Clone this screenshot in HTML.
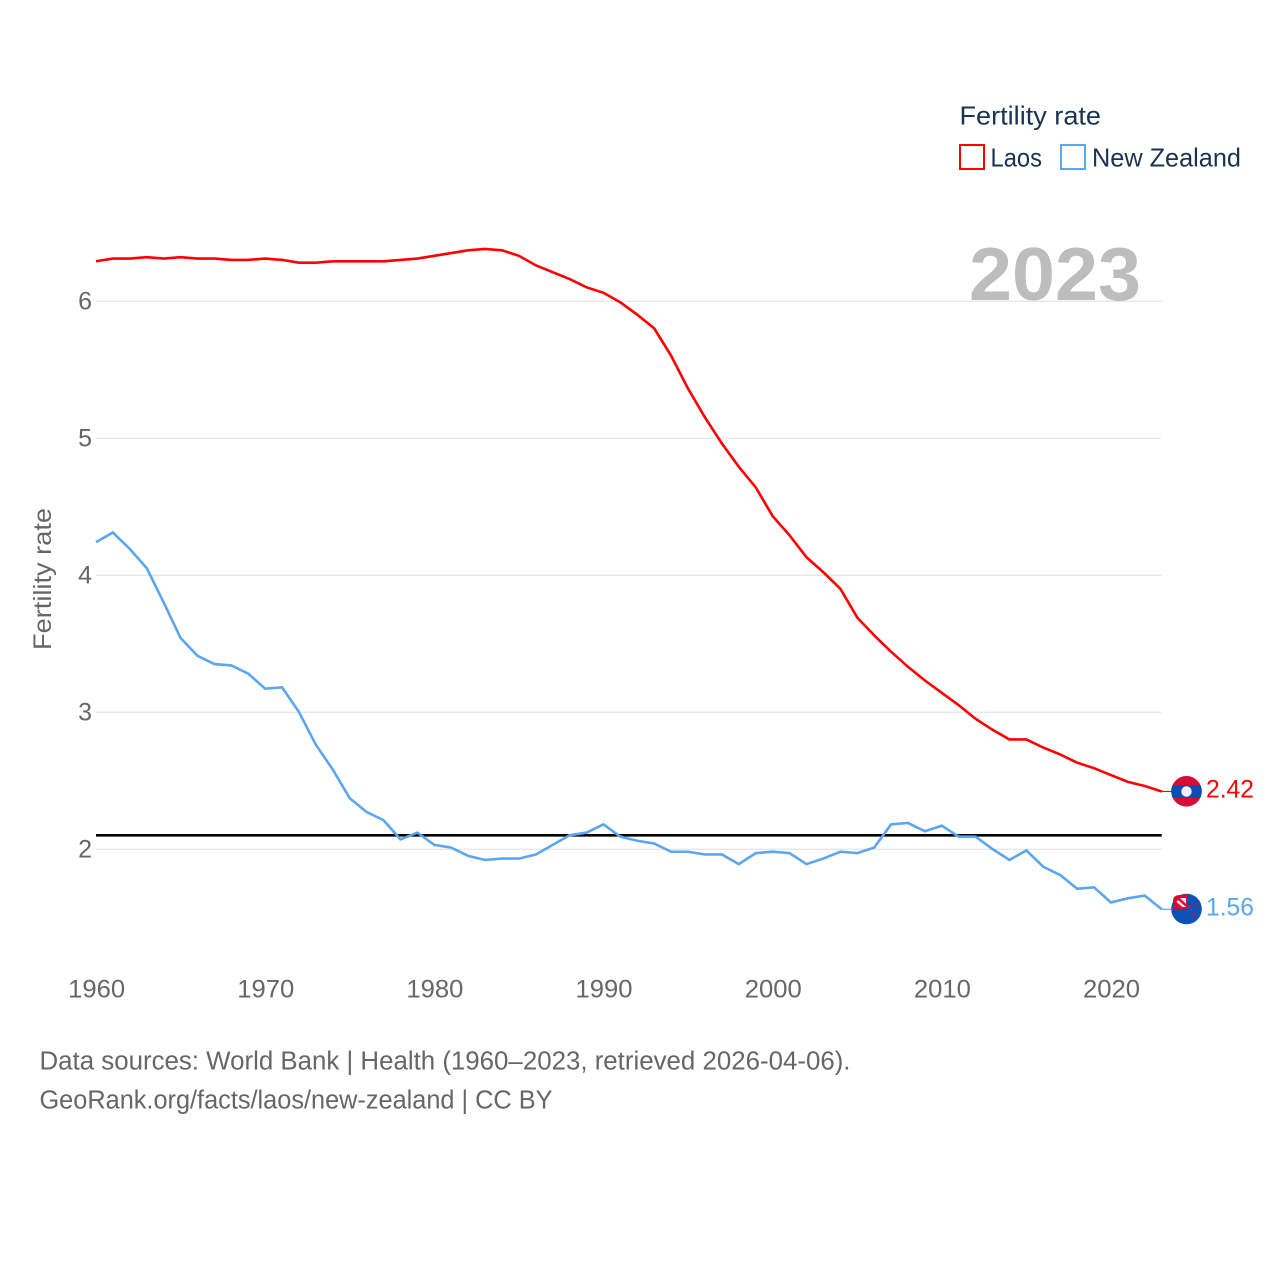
<!DOCTYPE html>
<html>
<head>
<meta charset="utf-8">
<title>Fertility rate: Laos and New Zealand</title>
<style>
html,body{margin:0;padding:0;background:#fff;}
svg{display:block;}
text{font-family:"Liberation Sans",sans-serif;}
.tick{font-size:25px;fill:#666;}
.src{font-size:25.5px;fill:#666;}
.leg{font-size:26px;fill:#1a3350;}
</style>
</head>
<body>
<svg id="chart" width="1280" height="1280" viewBox="0 0 1280 1280" xmlns="http://www.w3.org/2000/svg">
  <defs>
    <clipPath id="clip-la"><circle cx="1186.500" cy="791.300" r="15.300"/></clipPath>
  </defs>
  <rect x="0" y="0" width="1280" height="1280" fill="#fff"/>
  <g id="grid"></g>
  <text x="969" y="300" font-size="75" font-weight="700" fill="#bdbdbd" textLength="172" lengthAdjust="spacingAndGlyphs">2023</text>
  <g id="yticks"></g>
  <g id="xticks"></g>
  <text transform="translate(51,650) rotate(-90)" font-size="25" fill="#666" textLength="142" lengthAdjust="spacingAndGlyphs">Fertility rate</text>
  <g id="series"></g>

  <g>
    <text class="leg" x="959.500" y="124.500" textLength="141.500" lengthAdjust="spacingAndGlyphs">Fertility rate</text>
    <rect x="960" y="145" width="24" height="24" fill="none" stroke="#ff0000" stroke-width="2"/>
    <text class="leg" x="990.500" y="166.500" textLength="51.500" lengthAdjust="spacingAndGlyphs">Laos</text>
    <rect x="1061" y="145" width="24" height="24" fill="none" stroke="#5ba6ef" stroke-width="2"/>
    <text class="leg" x="1092" y="166.500" textLength="149" lengthAdjust="spacingAndGlyphs">New Zealand</text>
  </g>

  <g clip-path="url(#clip-la)">
    <rect x="1170" y="775" width="33" height="33" fill="#d60b36"/>
    <rect x="1170" y="785" width="33" height="13" fill="#0a4fb0"/>
    <circle cx="1186.500" cy="791.500" r="5.200" fill="#f2f2f2"/>
  </g>

  <g>
    <circle cx="1186.500" cy="909" r="15.300" fill="#0a52b5"/>
    <path d="M1187.500 894 V909 H1173 V901 Q1173 895 1180 895 Z" fill="#d60b36"/>
    <path d="M1178 900 L1186 907 H1182.500 L1176.500 902 Z" fill="#f2f2f2"/>
    <path d="M1180 898 H1186 V904 Z" fill="#e8e8ee"/>
    <circle cx="1194" cy="902" r="1" fill="#d60b36"/>
    <circle cx="1190" cy="907" r="1.200" fill="#d60b36"/>
    <circle cx="1197.500" cy="906.500" r="1" fill="#d60b36"/>
    <circle cx="1193.500" cy="915" r="1.400" fill="#d60b36"/>
  </g>

  <text x="1206" y="797.500" font-size="25" fill="#ff0000" textLength="48" lengthAdjust="spacingAndGlyphs" id="end-laos"></text>
  <text x="1206" y="915.500" font-size="25" fill="#5ba6ef" textLength="48" lengthAdjust="spacingAndGlyphs" id="end-nz"></text>

  <text class="src" x="39.500" y="1069.500" textLength="811" lengthAdjust="spacingAndGlyphs">Data sources: World Bank | Health (1960–2023, retrieved 2026-04-06).</text>
  <text class="src" x="39.500" y="1108.500" textLength="513" lengthAdjust="spacingAndGlyphs">GeoRank.org/facts/laos/new-zealand | CC BY</text>
</svg>
<script>
const years = [1960,1961,1962,1963,1964,1965,1966,1967,1968,1969,1970,1971,1972,1973,1974,1975,1976,1977,1978,1979,1980,1981,1982,1983,1984,1985,1986,1987,1988,1989,1990,1991,1992,1993,1994,1995,1996,1997,1998,1999,2000,2001,2002,2003,2004,2005,2006,2007,2008,2009,2010,2011,2012,2013,2014,2015,2016,2017,2018,2019,2020,2021,2022,2023];
const laosValues = [6.29,6.31,6.31,6.32,6.31,6.32,6.31,6.31,6.30,6.30,6.31,6.30,6.28,6.28,6.29,6.29,6.29,6.29,6.30,6.31,6.33,6.35,6.37,6.38,6.37,6.33,6.26,6.21,6.16,6.10,6.06,5.99,5.90,5.80,5.60,5.36,5.15,4.96,4.79,4.64,4.43,4.29,4.13,4.02,3.90,3.69,3.56,3.44,3.33,3.23,3.14,3.05,2.95,2.87,2.80,2.80,2.74,2.69,2.63,2.59,2.54,2.49,2.46,2.42];
const newZealandValues = [4.24,4.31,4.19,4.05,3.80,3.54,3.41,3.35,3.34,3.28,3.17,3.18,3.00,2.76,2.58,2.37,2.27,2.21,2.07,2.12,2.03,2.01,1.95,1.92,1.93,1.93,1.96,2.03,2.10,2.12,2.18,2.09,2.06,2.04,1.98,1.98,1.96,1.96,1.89,1.97,1.98,1.97,1.89,1.93,1.98,1.97,2.01,2.18,2.19,2.13,2.17,2.09,2.09,2.00,1.92,1.99,1.87,1.81,1.71,1.72,1.61,1.64,1.66,1.56];
const replacementLevel = [2.1];
const yTickValues = [2,3,4,5,6];
const xTickValues = [1960,1970,1980,1990,2000,2010,2020];

const NS = 'http://www.w3.org/2000/svg';
function xScale(year){ return 96 + (year - 1960) * (1161.7 - 96) / 63; }
function yScale(v){ return 849 - (v - 2) * 137; }
const plotRight = xScale(2023);

const gridG = document.getElementById('grid');
const yG = document.getElementById('yticks');
yTickValues.forEach(function(v){
  const ln = document.createElementNS(NS, 'line');
  
  
  ln.setAttribute('x1', 96);
  ln.setAttribute('x2', plotRight);
  ln.setAttribute('y1', yScale(v) + 0.3);
  ln.setAttribute('y2', yScale(v) + 0.3);
  ln.setAttribute('stroke', '#e7e7e7');
  ln.setAttribute('stroke-width', '1.3');
  gridG.appendChild(ln);
  const t = document.createElementNS(NS, 'text');
  
  
  t.setAttribute('class', 'tick');
  t.setAttribute('x', 92);
  t.setAttribute('y', yScale(v) + 8.5);
  t.setAttribute('text-anchor', 'end');
  t.textContent = v;
  yG.appendChild(t);
});

const xG = document.getElementById('xticks');
xTickValues.forEach(function(yr){
  const t = document.createElementNS(NS, 'text');
  
  
  t.setAttribute('class', 'tick');
  t.setAttribute('x', xScale(yr) + 0.6);
  t.setAttribute('y', 997.5);
  t.setAttribute('text-anchor', 'middle');
  t.setAttribute('textLength', '57');
  t.setAttribute('lengthAdjust', 'spacingAndGlyphs');
  t.textContent = yr;
  xG.appendChild(t);
});

function linePoints(values){
  return values.map(function(v, i){ return xScale(years[i]).toFixed(2) + ',' + yScale(v).toFixed(2); }).join(' ');
}
const seriesG = document.getElementById('series');

const refLine = document.createElementNS(NS, 'line');


refLine.setAttribute('x1', 96);
refLine.setAttribute('x2', plotRight);
refLine.setAttribute('y1', yScale(replacementLevel[0]));
refLine.setAttribute('y2', yScale(replacementLevel[0]));
refLine.setAttribute('stroke', '#000');
refLine.setAttribute('stroke-width', '2.6');
seriesG.appendChild(refLine);

const nzLine = document.createElementNS(NS, 'polyline');


nzLine.setAttribute('points', linePoints(newZealandValues));
nzLine.setAttribute('fill', 'none');
nzLine.setAttribute('stroke', '#5ba6ef');
nzLine.setAttribute('stroke-width', '2.6');
seriesG.appendChild(nzLine);

const laLine = document.createElementNS(NS, 'polyline');


laLine.setAttribute('points', linePoints(laosValues));
laLine.setAttribute('fill', 'none');
laLine.setAttribute('stroke', '#ff0000');
laLine.setAttribute('stroke-width', '2.6');
seriesG.appendChild(laLine);

const laLead = document.createElementNS(NS, 'line');


laLead.setAttribute('x1', plotRight);
laLead.setAttribute('x2', 1172);
laLead.setAttribute('y1', yScale(laosValues[laosValues.length - 1]));
laLead.setAttribute('y2', yScale(laosValues[laosValues.length - 1]));
laLead.setAttribute('stroke', '#ff0000');
laLead.setAttribute('stroke-width', '1.2');
seriesG.appendChild(laLead);

const nzLead = document.createElementNS(NS, 'line');


nzLead.setAttribute('x1', plotRight);
nzLead.setAttribute('x2', 1172);
nzLead.setAttribute('y1', yScale(newZealandValues[newZealandValues.length - 1]));
nzLead.setAttribute('y2', yScale(newZealandValues[newZealandValues.length - 1]));
nzLead.setAttribute('stroke', '#5ba6ef');
nzLead.setAttribute('stroke-width', '1.2');
seriesG.appendChild(nzLead);

document.getElementById('end-laos').textContent = laosValues[laosValues.length - 1].toFixed(2);
document.getElementById('end-nz').textContent = newZealandValues[newZealandValues.length - 1].toFixed(2);
</script>
</body>
</html>
